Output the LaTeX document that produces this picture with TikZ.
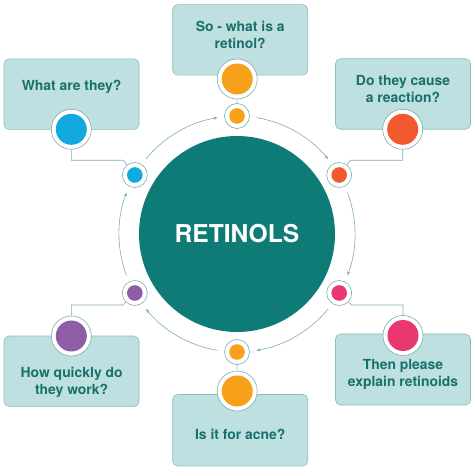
\documentclass[tikz,border=0pt]{standalone}
\usepackage{fontspec}
\setmainfont{TeX Gyre Heros}
\usetikzlibrary{arrows.meta}
\definecolor{boxfill}{RGB}{191,224,224}
\definecolor{boxdraw}{RGB}{140,188,188}
\definecolor{txt}{RGB}{24,112,108}
\definecolor{core}{RGB}{14,123,118}
\definecolor{ring}{RGB}{128,172,171}
\definecolor{cblue}{RGB}{18,169,225}
\definecolor{corange}{RGB}{247,161,26}
\definecolor{cred}{RGB}{241,90,47}
\definecolor{cpink}{RGB}{232,56,111}
\definecolor{cpurple}{RGB}{143,92,168}
\begin{document}
\begin{tikzpicture}[x=1pt,y=-1pt,
  qbox/.style={draw=boxdraw, fill=boxfill, rounded corners=5pt, line width=0.6pt, minimum width=135pt, inner sep=0pt},
  qtext/.style={text=txt, font=\bfseries\fontsize{13.9}{16.6}\selectfont, align=center, inner sep=0pt},
  bigdot/.style={circle, draw=ring, fill=white, line width=0.6pt, minimum size=40pt, inner sep=0pt,
    path picture={\fill[#1] (path picture bounding box.center) circle (15.5pt);}},
  smalldot/.style={circle, draw=ring, fill=white, line width=0.6pt, minimum size=25pt, inner sep=0pt,
    path picture={\fill[#1] (path picture bounding box.center) circle (7.8pt);}},
  link/.style={draw=ring, line width=0.6pt},
  flow/.style={draw=ring, line width=0.6pt, -{Stealth[length=4pt,width=3.2pt]}}
]
\useasboundingbox (0,0) rectangle (474,470);

% central circle
\node[circle, fill=core, minimum size=196pt, inner sep=0pt, text=white,
      font=\bfseries\fontsize{24.6}{28}\selectfont] (C) at (237,234) {RETINOLS};

% ring arcs (clockwise)
\foreach \a in {210,270,330,30,90,150}{
  \draw[flow] (C.center) ++(\a+9.5:118) arc[start angle=\a+9.5, end angle=\a+50.5, radius=118];
}

% small dots on the ring
\node[smalldot=cblue]   (s1) at (134.8,175) {};
\node[smalldot=corange] (s2) at (237,116) {};
\node[smalldot=cred]    (s3) at (339.2,175) {};
\node[smalldot=cpink]   (s4) at (339.2,293) {};
\node[smalldot=corange] (s5) at (237,352) {};
\node[smalldot=cpurple] (s6) at (134.8,293) {};

% boxes
\node[qbox, minimum height=70.5pt] (b1) at (71.5,94.2) {};
\node[qbox, minimum height=70.5pt] (b2) at (240.2,39.9) {};
\node[qbox, minimum height=70.5pt] (b3) at (403,94) {};
\node[qbox, minimum height=71pt]   (b4) at (403,369.5) {};
\node[qbox, minimum height=71.5pt] (b5) at (240.2,430.2) {};
\node[qbox, minimum height=70.5pt] (b6) at (71.5,371.3) {};

% texts
\node[qtext] (t1) at (71.6,87) {What are they?};
\node[qtext] (t2) at (240.2,35) {So - what is a\\retinol?};
\node[qtext] (t3) at (403,89) {Do they cause\\a reaction?};
\node[qtext] (t4) at (403,374.5) {Then please\\explain retinoids};
\node[qtext] (t5) at (240.2,434) {Is it for acne?};
\node[qtext] (t6) at (71.6,382.3) {How quickly do\\they work?};

% big dots
\node[bigdot=cblue]   (B1) at (71.3,129.3) {};
\node[bigdot=corange] (B2) at (237.2,79) {};
\node[bigdot=cred]    (B3) at (402.7,129.3) {};
\node[bigdot=cpink]   (B4) at (403,335.5) {};
\node[bigdot=corange] (B5) at (237.2,391) {};
\node[bigdot=cpurple] (B6) at (71.3,336) {};

% connectors
\coordinate (k1a) at (71.3,160.3);  \coordinate (k1b) at (123.3,160.3);
\coordinate (k3a) at (402.7,160.3); \coordinate (k3b) at (350.5,160.3);
\coordinate (k4a) at (403,305);     \coordinate (k4b) at (351.5,305);
\coordinate (k6a) at (71.3,305);    \coordinate (k6b) at (123,305);
\draw[link] (B1.south) -- (k1a) -- (k1b) -- (s1);
\draw[link] (B3.south) -- (k3a) -- (k3b) -- (s3);
\draw[link] (B4.north) -- (k4a) -- (k4b) -- (s4);
\draw[link] (B6.north) -- (k6a) -- (k6b) -- (s6);
\draw[link] (B2.south) -- (s2.north);
\draw[link] (B5.north) -- (s5.south);
\end{tikzpicture}
\end{document}
